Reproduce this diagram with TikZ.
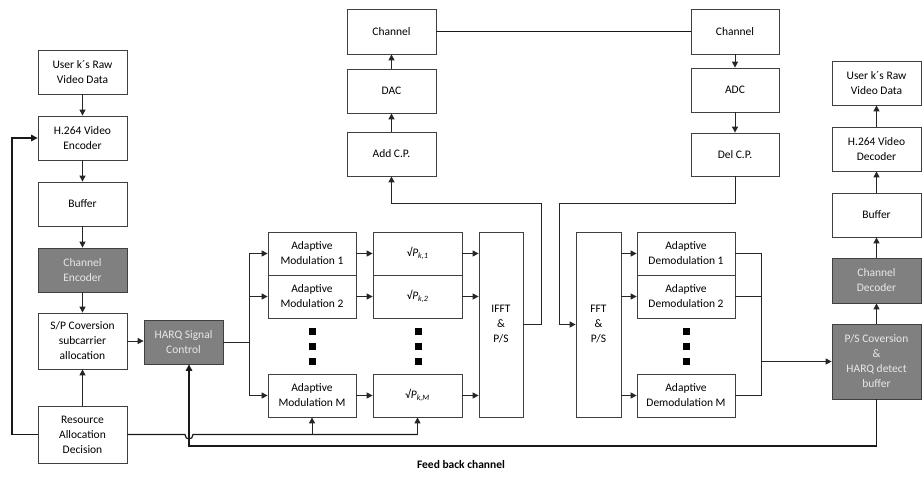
\documentclass[tikz,border=0pt]{standalone}
\usepackage{fontspec}
\setmainfont{Carlito}
\usetikzlibrary{arrows.meta}
\definecolor{boxgray}{HTML}{808080}
\definecolor{boxtext}{HTML}{E8E8E8}
\begin{document}
\begin{tikzpicture}[x=1pt,y=-1pt,
  blk/.style={draw=black!75, line width=0.8pt, fill=white, align=center, inner sep=1pt,
    font=\fontsize{11.5}{15}\selectfont},
  gblk/.style={blk, fill=boxgray, text=boxtext},
  conn/.style={line width=1pt, draw=black!85},
  arr/.style={conn, -{Triangle[length=6pt,width=6pt]}},
  fb/.style={line width=1.2pt, draw=black!90},
  fbarr/.style={fb, -{Triangle[length=6.5pt,width=6.5pt]}},
  sq/.style={fill=black, minimum size=7pt, inner sep=0pt}]
\useasboundingbox (0,0) rectangle (923,477);
% left column
\node[blk, minimum width=89pt, minimum height=44pt] (raw1) at (82.5,72) {User k´s Raw\\Video Data};
\node[blk, minimum width=89pt, minimum height=44pt] (enc) at (82.5,138) {H.264 Video\\Encoder};
\node[blk, minimum width=89pt, minimum height=44pt] (buf1) at (82.5,204) {Buffer};
\node[gblk, minimum width=89pt, minimum height=44pt] (chenc) at (82.5,270) {Channel\\Encoder};
\node[blk, minimum width=89pt, minimum height=56pt] (sp) at (82.5,341) {S/P Coversion\\subcarrier\\allocation};
\node[blk, minimum width=89pt, minimum height=57pt] (rad) at (82.5,434.5) {Resource\\Allocation\\Decision};
\node[gblk, minimum width=79pt, minimum height=44pt] (harq) at (183.5,342) {HARQ Signal\\Control};
% modulation
\node[blk, minimum width=88pt, minimum height=43pt] (mod1) at (312,253.5) {Adaptive\\Modulation 1};
\node[blk, minimum width=88pt, minimum height=43pt] (mod2) at (312,296.5) {Adaptive\\Modulation 2};
\node[blk, minimum width=88pt, minimum height=43pt] (modM) at (312,395.5) {Adaptive\\Modulation M};
\node[blk, minimum width=89pt, minimum height=43pt] (sq1) at (417.5,253.5) {√\textit{P}\textsubscript{\textit{k,1}}};
\node[blk, minimum width=89pt, minimum height=43pt] (sq2) at (417.5,296.5) {√\textit{P}\textsubscript{\textit{k,2}}};
\node[blk, minimum width=89pt, minimum height=43pt] (sqM) at (417.5,395.5) {√\textit{P}\textsubscript{\textit{k,M}}};
\node[blk, minimum width=44pt, minimum height=185pt] (ifft) at (501,324.5) {IFFT\\\&\\P/S};
\node[blk, minimum width=45pt, minimum height=185pt] (fft) at (598.5,324.5) {FFT\\\&\\P/S};
\foreach \yy in {331,346,361} {
  \node[sq] at (312,\yy) {};
  \node[sq] at (418,\yy) {};
  \node[sq] at (686,\yy) {};
}
% transmitter chain
\node[blk, minimum width=89pt, minimum height=44pt] (acp) at (391.5,154) {Add C.P.};
\node[blk, minimum width=89pt, minimum height=44pt] (dac) at (391.5,91) {DAC};
\node[blk, minimum width=89pt, minimum height=45pt] (ch1) at (391.5,31.5) {Channel};
\node[blk, minimum width=88pt, minimum height=45pt] (ch2) at (735,31.5) {Channel};
\node[blk, minimum width=88pt, minimum height=44pt] (adc) at (735,90) {ADC};
\node[blk, minimum width=88pt, minimum height=43pt] (del) at (735,154.5) {Del C.P.};
% demod
\node[blk, minimum width=98pt, minimum height=43pt] (dm1) at (686,253.5) {Adaptive\\Demodulation 1};
\node[blk, minimum width=98pt, minimum height=43pt] (dm2) at (686,296.5) {Adaptive\\Demodulation 2};
\node[blk, minimum width=98pt, minimum height=43pt] (dmM) at (686,395.5) {Adaptive\\Demodulation M};
% right column
\node[blk, minimum width=89pt, minimum height=44pt] (raw2) at (876.5,83) {User k´s Raw\\Video Data};
\node[blk, minimum width=89pt, minimum height=44pt] (dec) at (876.5,149) {H.264 Video\\Decoder};
\node[blk, minimum width=89pt, minimum height=44pt] (buf2) at (876.5,215) {Buffer};
\node[gblk, minimum width=89pt, minimum height=45pt] (chdec) at (876.5,280.5) {Channel\\Decoder};
\node[gblk, minimum width=89pt, minimum height=75pt] (ps) at (876.5,361.5) {P/S Coversion\\\&\\HARQ detect\\buffer};
\node[font=\fontsize{11.5}{13}\selectfont\bfseries] (fbl) at (461,464) {Feed back channel};
% left column arrows
\draw[arr] (raw1) -- (enc);
\draw[arr] (enc) -- (buf1);
\draw[arr] (buf1) -- (chenc);
\draw[arr] (chenc) -- (sp);
\draw[arr] (rad) -- (sp);
\draw[arr] (sp.east) -- (harq.west |- sp.east);
\draw[fbarr] (rad.west) -- (12,434.5) |- (enc.west);
% harq branch
\coordinate (br) at (249,342);
\draw[conn] (harq.east |- br) -- (br);
\draw[conn] (br |- mod1.west) -- (br |- modM.west);
\draw[arr] (br |- mod1.west) -- (mod1.west);
\draw[arr] (br |- mod2.west) -- (mod2.west);
\draw[arr] (br |- modM.west) -- (modM.west);
\draw[arr] (mod1) -- (sq1);
\draw[arr] (mod2) -- (sq2);
\draw[arr] (modM) -- (sqM);
\draw[arr] (sq1.east) -- (ifft.west |- sq1.east);
\draw[arr] (sq2.east) -- (ifft.west |- sq2.east);
\draw[arr] (sqM.east) -- (ifft.west |- sqM.east);
% resource line with hop
\coordinate (hop) at (189,434.5);
\draw[fb] (rad.east) -- ([xshift=-4pt]hop) .. controls ([xshift=-4pt,yshift=-6pt]hop) and ([xshift=4pt,yshift=-6pt]hop) .. ([xshift=4pt]hop) -- (sqM.south |- rad.east);
\draw[arr] (modM.south |- rad.east) -- (modM.south);
\draw[arr] (sqM.south |- rad.east) -- (sqM.south);
% feedback
\coordinate (fbk) at (189,446);
\draw[fbarr] (ps.south) |- (fbk) -- (fbk |- harq.south);
% tx chain
\draw[arr] (ifft.east) -- (541,324.5) -- (541,203) -| (acp.south);
\draw[arr] (acp) -- (dac);
\draw[arr] (dac) -- (ch1);
\draw[fb] (ch1) -- (ch2);
\draw[arr] (ch2) -- (adc);
\draw[arr] (adc) -- (del);
\draw[arr] (del.south) -- (735,203) -- (559,203) |- (fft.west);
% fft to demod
\draw[arr] (fft.east |- dm1.west) -- (dm1.west);
\draw[arr] (fft.east |- dm2.west) -- (dm2.west);
\draw[arr] (fft.east |- dmM.west) -- (dmM.west);
\coordinate (mg) at (761,362);
\draw[conn] (dm1.east) -- (dm1.east -| mg) -- (dmM.east -| mg) -- (dmM.east);
\draw[conn] (dm2.east) -- (dm2.east -| mg);
\draw[arr] (mg |- ps.west) -- (ps.west);
% right column arrows
\draw[arr] (ps) -- (chdec);
\draw[arr] (chdec) -- (buf2);
\draw[arr] (buf2) -- (dec);
\draw[arr] (dec) -- (raw2);
\end{tikzpicture}
\end{document}
